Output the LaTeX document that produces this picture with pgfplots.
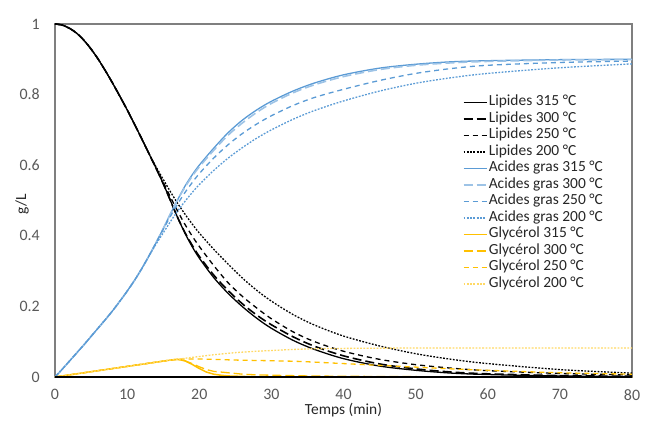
\documentclass[border=0pt]{standalone}
\usepackage{fontspec}
\setmainfont{Carlito}
\usepackage{pgfplots}
\pgfplotsset{compat=1.18}
\definecolor{agblue}{HTML}{5B9BD5}
\definecolor{agblue2}{HTML}{9DC3E6}
\definecolor{gly}{HTML}{FFC000}
\definecolor{gly2}{HTML}{FFD966}
\definecolor{tickc}{HTML}{595959}
\definecolor{legc}{HTML}{262626}
\definecolor{framec}{HTML}{7F7F7F}
\begin{document}
\begin{tikzpicture}
\path[use as bounding box] (-55bp,-49bp) rectangle (595bp,377bp);
\begin{axis}[
  at={(0,0)}, anchor=south west,
  scale only axis, width=577bp, height=353bp,
  xmin=0, xmax=80, ymin=0, ymax=1,
  xtick={0,10,...,80}, ytick={0,0.2,0.4,0.6,0.8,1},
  major tick length=0pt,
  axis line style={framec, line width=1.4bp},
  /pgf/number format/assume math mode=true,
  ticklabel style={font=\fontsize{16}{19}\selectfont, text=tickc},
  yticklabel style={inner sep=0pt, anchor=east, xshift=-15bp},
  xticklabel style={inner sep=0pt, anchor=north, yshift=-12bp},
  xlabel={Temps (min)}, ylabel={g/L},
  label style={font=\fontsize{15.5}{18}\selectfont, text=legc},
  xlabel style={at={(axis description cs:0.5,-0.095)}, anchor=center},
  ylabel style={at={(axis description cs:-0.057,0.49)}, anchor=center},
  legend image code/.code={\draw[#1] (0bp,0bp) -- (23bp,0bp);},
  legend style={draw=none, fill=none, inner sep=0pt,
    at={(axis cs:56.5,0.797)}, anchor=north west,
    font=\fontsize{15.5}{18}\selectfont, text=legc,
    nodes={inner xsep=1.5bp, inner ysep=0pt, text height=10bp, text depth=3bp},
    row sep=3.5bp},
  legend cell align=left,
  every axis plot/.append style={line width=1.3bp},
]
% Lipides
\addplot[black, smooth] table {
0 1.000
1 0.997
2 0.988
3 0.974
4 0.954
5 0.929
6 0.900
7 0.867
8 0.832
9 0.795
10 0.757
11 0.717
12 0.676
13 0.634
14 0.592
15 0.548
16 0.500
17 0.452
18 0.408
19 0.370
20 0.337
22 0.282
24 0.237
26 0.199
28 0.166
30 0.138
33 0.104
36 0.078
40 0.052
45 0.031
50 0.019
55 0.011
60 0.007
70 0.003
80 0.001
};
\addlegendentry{Lipides 315 °C}
\addplot[black, smooth, line width=1.6bp, dash pattern=on 9bp off 4bp] table {
0 1.000
1 0.997
2 0.988
3 0.974
4 0.954
5 0.929
6 0.900
7 0.867
8 0.832
9 0.795
10 0.757
11 0.717
12 0.676
13 0.634
14 0.592
15 0.548
16 0.500
17 0.452
18 0.410
19 0.374
20 0.342
22 0.289
24 0.245
26 0.207
28 0.175
30 0.148
33 0.114
36 0.087
40 0.060
45 0.037
50 0.023
55 0.014
60 0.009
70 0.004
80 0.002
};
\addlegendentry{Lipides 300 °C}
\addplot[black, smooth, dash pattern=on 5bp off 4bp] table {
0 1.000
1 0.997
2 0.988
3 0.974
4 0.954
5 0.929
6 0.900
7 0.867
8 0.832
9 0.795
10 0.757
11 0.717
12 0.676
13 0.634
14 0.592
15 0.552
16 0.510
17 0.470
18 0.433
19 0.400
20 0.370
22 0.316
24 0.267
26 0.228
28 0.195
30 0.165
33 0.128
36 0.100
40 0.073
45 0.050
50 0.035
55 0.025
60 0.018
70 0.010
80 0.006
};
\addlegendentry{Lipides 250 °C}
\addplot[black, smooth, dash pattern=on 1.8bp off 1.5bp] table {
0 1.000
1 0.997
2 0.988
3 0.974
4 0.954
5 0.929
6 0.900
7 0.867
8 0.832
9 0.795
10 0.757
11 0.717
12 0.676
13 0.634
14 0.596
15 0.560
16 0.525
17 0.492
18 0.462
19 0.434
20 0.408
22 0.362
24 0.320
26 0.280
28 0.245
30 0.215
33 0.177
36 0.147
40 0.116
45 0.088
50 0.066
55 0.050
60 0.038
70 0.021
80 0.011
};
\addlegendentry{Lipides 200 °C}
% Acides gras
\addplot[agblue, smooth] table {
0 0
1 0.022
2 0.045
3 0.068
4 0.091
5 0.115
6 0.139
7 0.163
8 0.188
9 0.215
10 0.243
11 0.273
12 0.306
13 0.342
14 0.380
15 0.420
16 0.462
17 0.502
18 0.540
19 0.572
20 0.600
22 0.648
24 0.692
26 0.728
28 0.757
30 0.781
33 0.810
36 0.833
40 0.856
45 0.875
50 0.886
55 0.893
60 0.896
70 0.899
80 0.900
};
\addlegendentry{Acides gras 315 °C}
\addplot[agblue2, smooth, line width=1.6bp, dash pattern=on 9bp off 4bp] table {
0 0
1 0.022
2 0.045
3 0.068
4 0.091
5 0.115
6 0.139
7 0.163
8 0.188
9 0.215
10 0.243
11 0.273
12 0.306
13 0.342
14 0.380
15 0.420
16 0.462
17 0.502
18 0.537
19 0.568
20 0.595
22 0.642
24 0.685
26 0.720
28 0.750
30 0.775
33 0.805
36 0.828
40 0.851
45 0.871
50 0.883
55 0.890
60 0.894
70 0.898
80 0.899
};
\addlegendentry{Acides gras 300 °C}
\addplot[agblue, smooth, dash pattern=on 5bp off 4bp] table {
0 0
1 0.022
2 0.045
3 0.068
4 0.091
5 0.115
6 0.139
7 0.163
8 0.188
9 0.215
10 0.243
11 0.273
12 0.306
13 0.342
14 0.380
15 0.418
16 0.455
17 0.490
18 0.522
19 0.550
20 0.576
22 0.620
24 0.658
26 0.690
28 0.717
30 0.740
33 0.769
36 0.792
40 0.815
45 0.840
50 0.860
55 0.874
60 0.883
70 0.891
80 0.895
};
\addlegendentry{Acides gras 250 °C}
\addplot[agblue, smooth, dash pattern=on 1.8bp off 1.5bp] table {
0 0
1 0.022
2 0.045
3 0.068
4 0.091
5 0.115
6 0.139
7 0.163
8 0.188
9 0.215
10 0.243
11 0.273
12 0.306
13 0.342
14 0.376
15 0.408
16 0.440
17 0.470
18 0.497
19 0.522
20 0.545
22 0.585
24 0.620
26 0.650
28 0.677
30 0.700
33 0.730
36 0.755
40 0.782
45 0.810
50 0.832
55 0.848
60 0.860
70 0.876
80 0.887
};
\addlegendentry{Acides gras 200 °C}
% Glycerol
\addplot[gly, line width=1.5bp] table {
0 0
4 0.012
8 0.024
12 0.036
16 0.048
17 0.050
18 0.046
19 0.036
20 0.024
21 0.014
22 0.008
23 0.005
24 0.003
27 0.001
30 0
80 0
};
\addlegendentry{Glycérol 315 °C}
\addplot[gly, dash pattern=on 9bp off 4bp] table {
0 0
4 0.012
8 0.024
12 0.036
16 0.048
17 0.050
18 0.046
19 0.038
20 0.029
21 0.021
22 0.016
24 0.012
26 0.008
28 0.006
30 0.005
35 0.003
40 0.002
50 0.001
80 0
};
\addlegendentry{Glycérol 300 °C}
\addplot[gly, smooth, dash pattern=on 5bp off 4bp] table {
0 0
4 0.012
8 0.024
12 0.036
16 0.048
17 0.050
18 0.051
20 0.051
22 0.050
25 0.048
30 0.046
34 0.044
40 0.038
45 0.033
50 0.028
55 0.023
60 0.019
70 0.012
80 0.008
};
\addlegendentry{Glycérol 250 °C}
\addplot[gly2, smooth, dash pattern=on 1.8bp off 1.5bp] table {
0 0
4 0.012
8 0.024
12 0.036
16 0.048
17 0.050
18 0.053
20 0.058
22 0.063
25 0.069
28 0.073
30 0.075
33 0.078
36 0.080
40 0.081
50 0.082
80 0.082
};
\addlegendentry{Glycérol 200 °C}
\draw[black, line width=1.4bp] (axis cs:0,0) -- (axis cs:80,0);
\end{axis}
\end{tikzpicture}
\end{document}
